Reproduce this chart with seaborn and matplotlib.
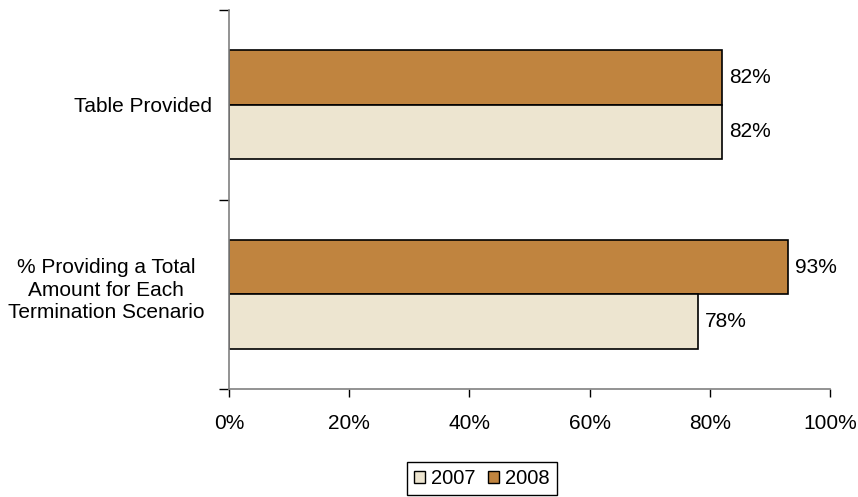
import matplotlib
matplotlib.use("Agg")
import matplotlib.pyplot as plt
import matplotlib.transforms as mtransforms
import seaborn as sns
import pandas as pd
from matplotlib.patches import Patch

categories = ["Table Provided",
              "% Providing a Total\nAmount for Each\nTermination Scenario"]
years = ["2007", "2008"]
values_2007 = [82, 78]
values_2008 = [82, 93]
x_ticks = [0, 20, 40, 60, 80, 100]
x_tick_labels = ["0%", "20%", "40%", "60%", "80%", "100%"]
colors = {"2007": "#EDE5D0", "2008": "#C0843F"}

df = pd.DataFrame({
    "category": categories * 2,
    "year": ["2007"] * 2 + ["2008"] * 2,
    "value": values_2007 + values_2008,
})

sns.set_style("white")
plt.rcParams["font.family"] = ["Liberation Sans", "DejaVu Sans"]
plt.rcParams["text.color"] = "black"
plt.rcParams["xtick.color"] = "black"
plt.rcParams["ytick.color"] = "black"
plt.rcParams["xtick.labelcolor"] = "black"
plt.rcParams["ytick.labelcolor"] = "black"

FS = 15

fig = plt.figure(figsize=(8.58, 4.97), dpi=100)
ax = fig.add_axes([229 / 858, 1 - 389 / 497, (830 - 229) / 858, (389 - 10) / 497])

sns.barplot(data=df, y="category", x="value", hue="year",
            hue_order=["2008", "2007"], order=categories,
            palette=colors, saturation=1, width=0.574, gap=0, edgecolor="black",
            linewidth=1.2, orient="h", legend=False, ax=ax)

ax.set_xlim(0, 100)
ax.set_ylim(1.5, -0.5)
ax.set_xlabel("")
ax.set_ylabel("")

ax.set_xticks(x_ticks)
ax.set_xticklabels(x_tick_labels, fontsize=FS)
ax.tick_params(axis="x", length=6, width=1, colors="black", pad=12, direction="out", bottom=True)

ax.set_yticks([0, 1])
ax.set_yticklabels(categories, fontsize=FS)
ax.tick_params(axis="y", which="major", length=0, pad=12.5)
for i, t in enumerate(ax.get_yticklabels()):
    t.set_multialignment("center")
    t.set_linespacing(1.25)
    if i == 1:
        t.set_transform(t.get_transform() +
                        mtransforms.ScaledTranslation(-7 / 100, 8 / 100, fig.dpi_scale_trans))
ax.set_yticks([-0.5, 0.5, 1.5], minor=True)
ax.tick_params(axis="y", which="minor", length=7, width=1, colors="black", direction="out", left=True)

for s in ["top", "right"]:
    ax.spines[s].set_visible(False)
for s in ["left", "bottom"]:
    ax.spines[s].set_color("#808080")
    ax.spines[s].set_linewidth(1.2)

# value labels
for cont, vals in zip(ax.containers, [values_2008, values_2007]):
    ax.bar_label(cont, labels=[f"{v}%" for v in vals], padding=5, fontsize=FS, color="black")

handles = [Patch(facecolor=colors[y], edgecolor="black", linewidth=1) for y in years]
fig.legend(handles, years, loc="upper center", bbox_to_anchor=(482 / 858, 1 - 462 / 497),
           ncol=2, fontsize=14.5, frameon=True, fancybox=False, edgecolor="black",
           handlelength=0.55, handleheight=0.55, handletextpad=0.3, columnspacing=0.6,
           borderpad=0.35, borderaxespad=0, framealpha=1)

fig.savefig("out.png", dpi=100)
